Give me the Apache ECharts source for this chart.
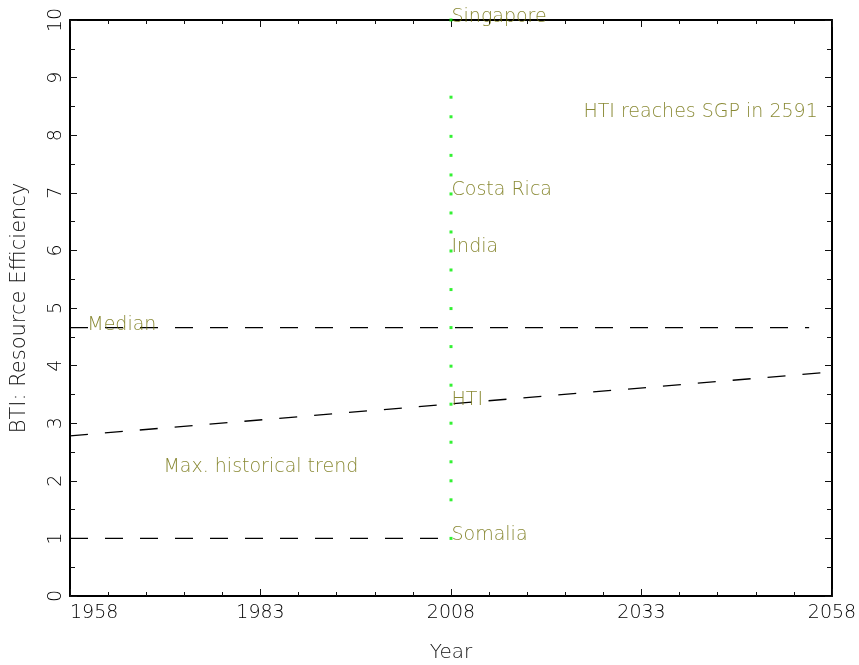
<!DOCTYPE html>
<html><head><meta charset="utf-8">
<script src="https://cdn.jsdelivr.net/npm/echarts@6/dist/echarts.min.js"></script>
<style>html,body{margin:0;padding:0;background:#fff}#c{width:859px;height:665px}</style>
</head><body><div id="c"></div>
<script>
// ---- data ----
const xMin = 1958, xMax = 2058, xStep = 25;
const yMin = 0, yMax = 10, yStep = 1;
const countries = ['Singapore', 'Costa Rica', 'India', 'HTI', 'Somalia'];
const countryValues = [10.0, 7.0, 6.0, 3.35, 1.0];
const countryYear = 2008;
const medianLine = [[1958, 4.66], [2055, 4.66]];
const trendLine = [[1958, 2.78], [2058, 3.89]];
const somaliaLine = [[1958, 1.0], [2008, 1.0]];
const singaporeLine = [[2008, 10.0], [2058, 10.0]];
const greenDotValues = [10.0, 8.66, 8.32, 7.98, 7.65, 7.31, 6.98, 6.65, 6.32, 5.99, 5.66, 5.32,
  4.99, 4.66, 4.33, 3.99, 3.66, 3.33, 3.0, 2.67, 2.33, 2.0, 1.67, 1.0];
const noteTexts = ['Median', 'Max. historical trend', 'HTI reaches SGP in 2591'];
const noteX = [1960.2, 1970.2, 2056.2];
const noteY = [4.65, 2.18, 8.35];
const noteAlign = ['left', 'left', 'right'];

// ---- chart ----
const FONT = 'DejaVu Sans';
const OLIVE = '#6c6c00';
const chart = echarts.init(document.getElementById('c'), null, {renderer: 'canvas'});

function xAxisCfg(pos, labels) {
  return {
    type: 'value', position: pos, min: xMin, max: xMax, interval: xStep,
    axisLine: {onZero: false, lineStyle: {color: '#000', width: 2}},
    axisTick: {inside: true, length: 7, lineStyle: {color: '#111', width: 1}},
    minorTick: {show: true, splitNumber: 5, length: 4, lineStyle: {color: '#111', width: 1}},
    splitLine: {show: false}, minorSplitLine: {show: false},
    axisLabel: {show: labels, margin: 8, fontSize: 19, fontFamily: FONT, fontWeight: 200, color: '#000',
      alignMinLabel: 'left', formatter: v => String(v)},
    name: labels ? 'Year' : '', nameLocation: 'middle', nameGap: 47,
    nameTextStyle: {fontSize: 20, fontFamily: FONT, fontWeight: 200, color: '#111'}
  };
}
function yAxisCfg(pos, labels) {
  return {
    type: 'value', position: pos, min: yMin, max: yMax, interval: yStep,
    axisLine: {onZero: false, lineStyle: {color: '#000', width: 2}},
    axisTick: {inside: true, length: 7, lineStyle: {color: '#111', width: 1}},
    minorTick: {show: true, splitNumber: 2, length: 5, lineStyle: {color: '#111', width: 1}},
    splitLine: {show: false}, minorSplitLine: {show: false},
    axisLabel: {show: labels, rotate: 90, margin: 4, fontSize: 19, fontFamily: FONT, fontWeight: 200, color: '#000'},
    name: labels ? 'BTI: Resource Efficiency' : '', nameLocation: 'middle', nameRotate: 90, nameGap: 40,
    nameTextStyle: {fontSize: 21, fontFamily: FONT, fontWeight: 200, color: '#111'}
  };
}

const dashStyle = {color: '#000', width: 1.3, type: [18, 17]};
function lineSeries(name, data) {
  return {name, type: 'line', data, showSymbol: false, symbol: 'none', lineStyle: dashStyle,
    xAxisIndex: 0, yAxisIndex: 0, silent: true, z: 2};
}

const labelBase = {show: true, fontSize: 19, fontFamily: FONT, fontWeight: 200, color: OLIVE,
  distance: 0, offset: [0, -3], formatter: p => p.name};

chart.setOption({
  animation: false,
  grid: {left: 70, right: 27, top: 20, bottom: 69, containLabel: false, outerBoundsMode: 'none'},
  xAxis: [xAxisCfg('bottom', true), xAxisCfg('top', false)],
  yAxis: [yAxisCfg('left', true), yAxisCfg('right', false)],
  series: [
    lineSeries('Median', medianLine),
    lineSeries('Trend', trendLine),
    lineSeries('Somalia', somaliaLine),
    lineSeries('Singapore', singaporeLine),
    {
      name: 'dots', type: 'scatter', symbol: 'rect', symbolSize: 3,
      itemStyle: {color: '#00ee00'}, z: 3, silent: true,
      data: greenDotValues.map(v => [countryYear, v])
    },
    {
      name: 'countries', type: 'scatter', symbolSize: 1, itemStyle: {color: 'rgba(0,0,0,0)'}, z: 4, silent: true,
      label: Object.assign({}, labelBase, {position: 'right'}),
      data: countries.map((c, i) => ({name: c, value: [countryYear, countryValues[i]]}))
    },
    {
      name: 'notes', type: 'scatter', symbolSize: 1, itemStyle: {color: 'rgba(0,0,0,0)'}, z: 4, silent: true,
      label: labelBase,
      data: noteTexts.map((t, i) => ({name: t, value: [noteX[i], noteY[i]],
        label: {position: noteAlign[i] === 'right' ? 'left' : 'right'}}))
    }
  ]
});
</script>
</body></html>
